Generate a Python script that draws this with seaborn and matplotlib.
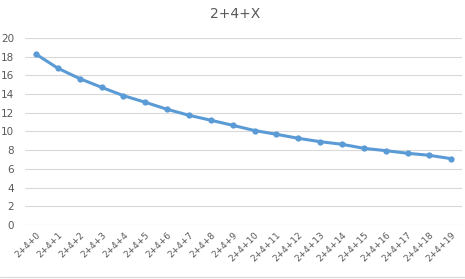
import matplotlib
matplotlib.use("Agg")
import matplotlib.pyplot as plt
import seaborn as sns
import pandas as pd

categories = [f"2+4+{i}" for i in range(20)]
values = [18.26, 16.76, 15.65, 14.72, 13.83, 13.12, 12.37, 11.73, 11.2, 10.66,
          10.1, 9.7, 9.27, 8.91, 8.63, 8.2, 7.95, 7.67, 7.45, 7.09]
title = "2+4+X"

sns.set_theme(style="white")
plt.rcParams['font.family'] = ['DejaVu Sans']

df = pd.DataFrame({"x": range(len(categories)), "y": values})

fig = plt.figure(figsize=(4.65, 2.79), dpi=100)
ax = fig.add_axes([0.054, 0.1935, 0.94, 0.6705])
sns.lineplot(data=df, x="x", y="y", ax=ax, color="#5B9BD5", linewidth=2.2,
             marker="o", markersize=4.5, markeredgewidth=0, markerfacecolor="#5B9BD5")
ax.set_xlim(-0.5, len(categories) - 0.5)
ax.set_ylim(0, 20)
ax.set_yticks(range(0, 21, 2))
ax.set_xticks(range(len(categories)))
ax.set_xticklabels(categories, rotation=45, ha="right", rotation_mode="anchor",
                   fontsize=6.5, color="#595959")
ax.tick_params(axis="y", labelsize=7.5, labelcolor="#595959", length=0, pad=8)
ax.tick_params(axis="x", length=0, pad=4)
ax.grid(axis="y", color="#D9D9D9", linewidth=0.8)
ax.set_axisbelow(True)
for s in ax.spines.values():
    s.set_visible(False)
ax.set_xlabel("")
ax.set_ylabel("")
fig.text(0.505, 0.95, title, ha="center", va="center", fontsize=10, color="#595959")
fig.add_artist(plt.Line2D([0, 1], [0.007, 0.007], color="#D9D9D9", linewidth=0.8,
                          transform=fig.transFigure))
fig.savefig("out.png", dpi=100)
